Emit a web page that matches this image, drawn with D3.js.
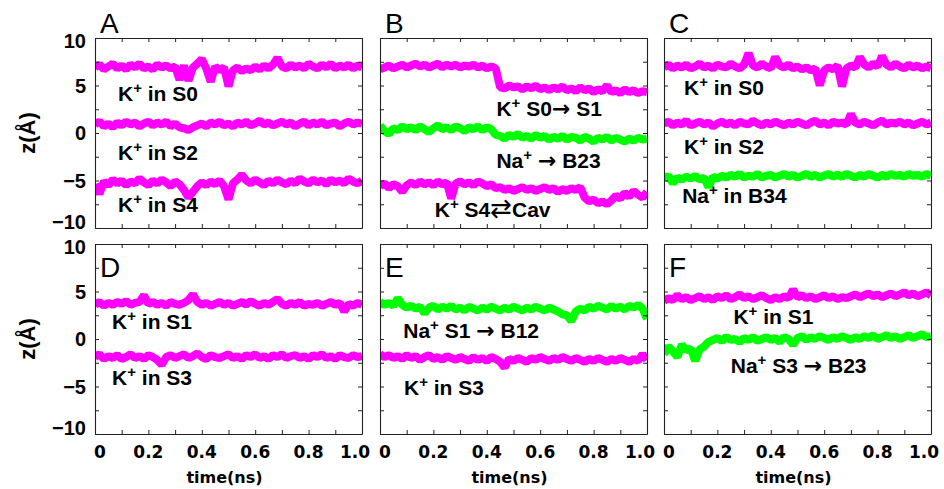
<!DOCTYPE html>
<html><head><meta charset="utf-8">
<script src="https://cdn.jsdelivr.net/npm/d3@7"></script>
<style>body{margin:0;background:#fff}</style>
</head><body><svg id="c" width="944" height="489"></svg>
<script>
// ---------- data ----------
const timeTicks = [0, 0.2, 0.4, 0.6, 0.8, 1.0];
const timeTickLabels = ["0", "0.2", "0.4", "0.6", "0.8", "1.0"];
const zTicks = [10, 5, 0, -5, -10];
const zTickLabels = ["10", "5", "0", "\u22125", "\u221210"];
const panelLetters = ["A", "B", "C", "D", "E", "F"];

// z (Å) sampled every 1/60 ns, t = 0 … 1 ns
const A_K_S0 = [6.9,7.2,6.7,7.0,7.3,6.8,7.1,6.7,7.2,6.9, 7.3,6.8,7.0,6.7,7.2,6.9,7.1,6.8,7.0,5.6, 7.1,5.5,6.9,7.3,7.8,6.8,5.4,7.0,6.6,6.9, 4.9,6.6,6.9,6.5,6.8,6.6,7.0,6.7,7.1,6.8, 7.2,7.9,7.0,6.8,7.2,6.9,7.1,6.8,7.3,7.0, 6.8,7.2,6.9,7.3,6.8,7.1,6.9,7.2,6.8,7.1,6.9];
const A_K_S2 = [0.9,1.2,0.7,1.0,0.6,1.1,0.8,1.2,0.9,1.1, 0.7,1.0,1.2,0.8,1.1,0.9,1.2,0.7,1.0,0.6, 0.5,0.3,0.6,0.8,1.0,0.7,1.1,0.9,1.2,0.8, 1.0,0.7,1.1,0.9,1.2,0.8,1.0,1.3,0.9,1.1, 0.8,1.0,1.2,0.9,1.1,0.7,1.0,1.2,0.8,1.1, 0.9,1.2,0.8,1.0,1.1,0.7,1.0,1.2,0.9,1.1,1.0];
const A_K_S4 = [-5.4,-6.4,-5.1,-5.5,-4.9,-5.3,-5.0,-5.5,-5.1,-5.3, -4.8,-5.2,-5.5,-5.0,-5.3,-4.9,-5.2,-5.6,-5.1,-5.4, -6.0,-6.8,-6.2,-5.6,-5.2,-5.5,-5.1,-5.4,-5.0,-5.6, -7.0,-5.3,-4.9,-4.4,-5.0,-5.3,-4.9,-5.2,-5.5,-5.0, -5.3,-4.9,-5.2,-5.4,-5.0,-5.3,-4.8,-5.1,-5.3,-4.9, -5.2,-5.0,-5.4,-4.9,-5.2,-5.0,-5.3,-4.8,-5.1,-5.3,-5.0];

const B_K_S0S1 = [6.7,6.9,7.1,6.8,7.0,7.2,6.9,7.1,7.3,7.0, 7.2,6.9,7.1,7.3,6.9,7.2,7.0,7.2,6.9,7.1, 7.0,7.2,6.9,7.1,6.8,7.0,6.8,4.8,4.7,5.0, 4.8,4.9,4.6,4.9,4.7,5.0,4.6,4.8,4.5,4.8, 4.6,4.9,4.5,4.7,4.4,4.8,4.5,4.7,4.3,4.6, 4.4,5.0,4.3,4.5,4.2,4.6,4.3,4.5,4.2,4.4,4.3];
const B_Na_B23 = [0.8,0.2,-0.1,0.5,0.3,0.7,0.4,0.6,0.3,0.7, 0.4,0.1,0.5,0.8,0.4,0.6,0.3,0.7,0.5,0.2, 0.6,0.4,0.7,0.3,0.6,0.4,-0.2,-0.3,-0.6,-0.2, -0.4,-0.1,-0.5,-0.3,-0.6,-0.2,-0.5,-0.3,-0.7,-0.4, -0.6,-0.3,-0.7,-0.4,-0.5,-0.8,-0.4,-0.6,-0.9,-0.5, -0.7,-0.4,-0.8,-0.5,-0.7,-0.9,-0.6,-0.8,-0.5,-0.7,-0.6];
const B_K_S4Cav = [-5.6,-5.3,-5.8,-5.4,-5.6,-6.2,-5.5,-5.2,-5.5,-5.1, -5.4,-5.2,-5.5,-5.1,-5.4,-5.2,-6.9,-5.3,-5.1,-5.4, -5.2,-5.5,-5.1,-5.3,-5.6,-5.4,-5.8,-5.7,-6.0,-5.8, -6.1,-5.9,-5.7,-6.0,-5.8,-6.1,-5.9,-5.7,-6.0,-5.8, -6.2,-5.9,-6.1,-5.8,-6.0,-5.7,-6.8,-7.2,-7.0,-7.4, -7.2,-7.5,-7.1,-6.6,-6.9,-6.3,-6.7,-6.1,-6.5,-6.8,-6.2];

const C_K_S0 = [6.9,7.2,6.8,7.1,6.9,7.2,6.8,7.0,7.3,6.9, 7.1,6.8,7.2,7.0,6.9,7.3,7.0,6.8,7.2,8.4, 7.1,6.9,7.3,7.0,6.8,8.0,7.1,6.9,7.2,6.8, 7.0,6.7,6.9,6.6,6.8,5.0,6.6,6.9,6.7,7.1, 4.9,6.8,7.1,6.9,8.0,7.2,6.9,7.3,7.0,8.1, 7.2,6.9,7.3,7.0,6.8,7.2,6.9,7.1,6.8,7.0,6.8];
const C_K_S2 = [1.0,1.2,0.8,1.1,0.9,1.3,0.8,1.0,1.2,0.9, 1.1,0.7,1.0,1.2,0.9,1.1,0.8,1.2,1.0,0.9, 1.3,1.0,0.8,1.1,0.9,1.2,1.0,0.8,1.1,0.9, 1.2,1.0,0.8,1.1,1.3,0.9,1.1,0.8,1.2,1.0, 1.1,0.9,2.0,1.1,0.9,1.2,1.0,0.8,1.1,1.3, 0.9,1.1,1.0,1.2,0.9,1.1,0.8,1.0,1.2,0.9,1.1];
const C_Na_B34 = [-4.8,-4.5,-5.3,-4.7,-4.9,-4.6,-4.8,-4.5,-4.9,-4.7, -5.7,-4.6,-4.8,-4.5,-4.7,-4.4,-4.6,-4.3,-4.7,-4.5, -4.6,-4.3,-4.7,-4.5,-4.4,-4.7,-4.5,-4.3,-4.6,-4.4, -4.7,-4.5,-4.3,-4.6,-4.4,-4.7,-4.5,-4.3,-4.6,-4.4, -4.6,-4.3,-4.5,-4.7,-4.4,-4.6,-4.3,-4.5,-4.7,-4.4, -4.6,-4.3,-4.5,-4.4,-4.6,-4.3,-4.5,-4.4,-4.6,-4.3,-4.5];

const D_K_S1 = [3.6,3.9,3.5,3.8,3.6,3.9,3.7,4.0,3.6,3.8, 3.9,4.6,3.7,3.9,3.6,3.8,3.5,3.9,3.7,3.6, 3.8,4.1,4.7,3.9,3.6,3.8,3.5,3.7,3.9,3.6, 3.8,3.5,3.7,3.9,3.6,4.0,3.7,3.5,3.8,3.6, 3.9,4.2,3.7,3.5,3.8,3.6,3.9,3.5,3.7,3.6, 3.8,3.5,3.7,3.9,3.6,3.8,2.9,3.7,3.5,3.8,3.6];
const D_K_S3 = [-1.9,-1.6,-2.1,-1.8,-2.0,-1.7,-2.1,-1.9,-1.6,-2.0, -1.8,-2.1,-1.7,-1.9,-2.2,-2.7,-1.9,-1.7,-2.0,-1.8, -1.6,-2.0,-1.8,-1.5,-1.9,-2.1,-1.7,-1.9,-2.0,-1.8, -1.6,-2.0,-1.8,-2.1,-1.7,-1.9,-1.6,-2.0,-1.8,-2.1, -1.7,-1.9,-1.6,-2.0,-1.8,-1.7,-2.0,-1.8,-2.1,-1.7, -1.9,-1.6,-2.0,-1.8,-2.1,-1.7,-1.9,-2.0,-1.7,-1.9,-1.8];

const E_Na_S1B12 = [3.9,3.6,3.8,3.5,4.3,3.6,3.3,3.5,3.2,3.4, 2.7,3.3,3.5,3.1,3.4,3.2,3.5,3.1,3.3,3.0, 3.4,3.2,3.0,3.3,3.1,3.4,3.2,3.0,3.3,3.1, 3.4,3.2,3.0,3.3,3.1,3.4,3.2,3.0,3.3,3.1, 2.9,2.6,2.5,1.9,2.9,3.2,3.0,3.4,3.2,3.5, 3.3,3.1,3.5,3.2,3.4,3.1,3.5,3.3,3.6,3.2,2.1];
const E_K_S3 = [-1.6,-1.9,-1.7,-2.0,-1.8,-2.1,-1.7,-2.0,-1.8,-2.2, -1.9,-1.7,-2.1,-1.9,-2.2,-1.8,-2.0,-2.2,-1.9,-2.1, -2.3,-1.9,-2.2,-2.0,-2.3,-1.9,-2.1,-2.4,-3.0,-2.1, -2.3,-2.0,-2.2,-2.4,-2.0,-2.2,-1.9,-2.1,-2.3,-2.0, -2.2,-1.9,-2.1,-2.3,-2.0,-2.2,-2.4,-2.1,-2.3,-2.0, -2.2,-2.4,-2.1,-2.3,-2.0,-2.2,-2.4,-2.1,-2.3,-1.6,-2.2];

const F_K_S1 = [4.0,4.3,4.1,4.6,4.2,4.4,4.1,4.3,4.5,4.2, 4.4,4.1,4.5,4.3,4.6,4.2,4.4,4.7,4.3,4.5, 4.2,4.4,4.6,4.3,4.1,4.4,4.2,4.5,4.3,5.2, 4.4,4.6,4.3,4.5,4.2,4.4,4.6,4.3,4.5,4.2, 4.4,4.3,4.5,4.7,4.4,4.6,4.8,4.5,4.7,4.4, 4.6,4.8,4.5,4.7,4.9,4.6,4.8,4.5,4.7,4.9,4.6];
const F_Na_S3B23 = [-1.6,-0.8,-1.3,-1.9,-0.6,-1.2,-1.0,-2.3,-1.1,-0.8, -0.3,-0.1,0.1,-0.2,0.2,-0.1,0.0,-0.3,0.1,-0.1, 0.2,-0.2,0.0,0.2,-0.1,0.1,-0.3,0.2,0.0,-0.6, 0.1,0.3,-0.1,0.2,0.0,0.3,0.1,-0.1,0.2,0.0, 0.3,0.1,-0.1,0.2,0.0,0.3,0.1,0.4,0.0,0.2, 0.4,0.1,0.3,0.0,0.2,0.4,0.1,0.3,0.5,0.2,0.3];

// ion type of each trace ("K" magenta, "Na" green), per panel
const panelTraces = [
  [["K", A_K_S0], ["K", A_K_S2], ["K", A_K_S4]],
  [["K", B_K_S0S1], ["Na", B_Na_B23], ["K", B_K_S4Cav]],
  [["K", C_K_S0], ["K", C_K_S2], ["Na", C_Na_B34]],
  [["K", D_K_S1], ["K", D_K_S3]],
  [["Na", E_Na_S1B12], ["K", E_K_S3]],
  [["K", F_K_S1], ["Na", F_Na_S3B23]]
];
// annotation texts ("^+" = superscript plus)
const panelLabels = [
  ["K^+ in S0", "K^+ in S2", "K^+ in S4"],
  ["K^+ S0\u2192 S1", "Na^+ \u2192 B23", "K^+ S4\u21C4Cav"],
  ["K^+ in S0", "K^+ in S2", "Na^+ in B34"],
  ["K^+ in S1", "K^+ in S3"],
  ["Na^+ S1 \u2192 B12", "K^+ in S3"],
  ["K^+ in S1", "Na^+ S3 \u2192 B23"]
];

// ---------- layout (not data) ----------
const labelAnchors = [
  [[0.086, 3.4], [0.086, -2.8], [0.086, -8.3]],
  [[0.436, 1.75], [0.436, -3.65], [0.205, -8.8]],
  [[0.075, 4.0], [0.075, -2.2], [0.068, -7.4]],
  [[0.064, 1.05], [0.064, -4.8]],
  [[0.087, 0.1], [0.09, -5.9]],
  [[0.26, 1.6], [0.25, -3.6]]
];
const colLeft = [95, 380, 664], colW = 267;
const rowTop = [38, 244], rowH = 190;
const colors = { K: "#ff00ff", Na: "#00ff00" };
const labelFont = "'Liberation Sans', Arial, sans-serif";
const tickFont = "'DejaVu Sans', sans-serif";

const svg = d3.select("#c");
const defs = svg.append("defs");

panelLetters.forEach((letter, p) => {
  const col = p % 3, row = Math.floor(p / 3);
  const x0 = colLeft[col], y0 = rowTop[row];
  const x = d3.scaleLinear().domain([0, 1]).range([x0, x0 + colW]);
  const y = d3.scaleLinear().domain([-10, 10]).range([y0 + rowH, y0]);
  const g = svg.append("g");

  defs.append("clipPath").attr("id", "clip" + p)
    .append("rect").attr("x", x0).attr("y", y0).attr("width", colW).attr("height", rowH);

  // traces
  panelTraces[p].forEach(([ion, vals]) => {
    g.append("path").datum(vals)
      .attr("d", d3.line().x((d, i) => x(i / (vals.length - 1))).y(d => y(d)))
      .attr("fill", "none").attr("stroke", colors[ion])
      .attr("stroke-width", 8).attr("stroke-linejoin", "bevel")
      .attr("clip-path", `url(#clip${p})`);
  });

  // frame with inward ticks on all sides
  const tickLen = 4;
  const xMinor = d3.range(0, 11).map(i => i / 10);
  const yMinor = d3.range(-10, 10.01, 2.5);
  const axStroke = "#222";
  g.append("g").attr("transform", `translate(0,${y0 + rowH})`)
    .call(d3.axisBottom(x).tickValues(xMinor).tickSize(-tickLen).tickFormat("").tickSizeOuter(0));
  g.append("g").attr("transform", `translate(0,${y0})`)
    .call(d3.axisTop(x).tickValues(xMinor).tickSize(-tickLen).tickFormat("").tickSizeOuter(0));
  g.append("g").attr("transform", `translate(${x0},0)`)
    .call(d3.axisLeft(y).tickValues(yMinor).tickSize(-tickLen).tickFormat("").tickSizeOuter(0));
  g.append("g").attr("transform", `translate(${x0 + colW},0)`)
    .call(d3.axisRight(y).tickValues(yMinor).tickSize(-tickLen).tickFormat("").tickSizeOuter(0));
  g.selectAll(".domain").attr("stroke", axStroke).attr("stroke-width", 1.1);
  g.selectAll(".tick line").attr("stroke", axStroke).attr("stroke-width", 1);

  // y tick labels (end labels nudged inward as in the reference)
  if (col === 0) {
    zTicks.forEach((v, i) => {
      const nudge = i === 0 ? 3 : (i === zTicks.length - 1 ? -6 : 0);
      svg.append("text").attr("x", x0 - 9).attr("y", y(v) + nudge).attr("dy", "0.36em")
        .attr("text-anchor", "end").attr("font-family", labelFont)
        .attr("font-weight", "bold").attr("font-size", 20).text(zTickLabels[i]);
    });
    svg.append("text")
      .attr("transform", `translate(35,${y(0)}) rotate(-90)`)
      .attr("text-anchor", "middle").attr("font-family", labelFont)
      .attr("font-weight", "bold").attr("font-size", 22).text("z(\u00C5)");
  }
  // x tick labels
  if (row === 1) {
    timeTicks.forEach((v, i) => {
      const shift = i === 0 ? 5 : (i === timeTicks.length - 1 ? -7 : 0);
      svg.append("text").attr("x", x(v) + shift).attr("y", 458)
        .attr("text-anchor", "middle").attr("font-family", tickFont)
        .attr("font-weight", "bold").attr("font-size", 17).text(timeTickLabels[i]);
    });
    svg.append("text").attr("x", x0 + colW / 2 - 4).attr("y", 483)
      .attr("text-anchor", "middle").attr("font-family", tickFont)
      .attr("font-weight", "bold").attr("font-size", 16).text("time(ns)");
  }

  // panel letter
  svg.append("text")
    .attr("x", x0 + 5).attr("y", row === 0 ? 33 : y0 + 33)
    .attr("font-family", labelFont).attr("font-size", 28).text(letter);

  // annotations
  panelLabels[p].forEach((txt, i) => {
    const [tx, tz] = labelAnchors[p][i];
    const t = svg.append("text").attr("x", x(tx)).attr("y", y(tz))
      .attr("font-family", labelFont).attr("font-weight", "bold").attr("font-size", 21);
    const parts = txt.split(/(\^\+|\u2192|\u21C4)/).filter(s => s.length);
    let raised = false;
    parts.forEach(part => {
      if (part === "^+") {
        t.append("tspan").attr("font-size", 15).attr("dy", -8).text("+");
        raised = true;
        return;
      }
      const ts = t.append("tspan");
      if (raised) { ts.attr("dy", 8); raised = false; }
      if (part === "\u2192") {
        ts.attr("font-family", tickFont).attr("font-size", 22).text(part);
      } else if (part === "\u21C4") {
        ts.attr("font-family", tickFont).attr("font-weight", "normal").attr("font-size", 26).text(part);
      } else {
        ts.text(part);
      }
    });
  });
});
</script></body></html>
